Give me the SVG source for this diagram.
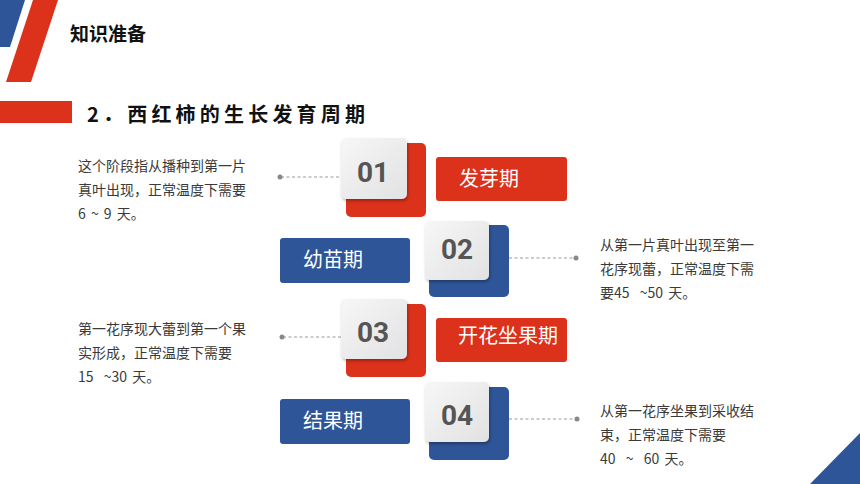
<svg xmlns="http://www.w3.org/2000/svg" width="860" height="484" viewBox="0 0 860 484">
<defs>
<linearGradient id="g" x1="0" y1="0" x2="1" y2="1">
<stop offset="0" stop-color="#f7f7f7"/>
<stop offset="1" stop-color="#e2e1e3"/>
</linearGradient>
<filter id="sh" x="-20%" y="-20%" width="150%" height="150%">
<feDropShadow dx="1" dy="2" stdDeviation="1.5" flood-color="#000" flood-opacity="0.3"/>
</filter>
</defs>
<style>
text{font-family:"Noto Sans CJK SC","Noto Sans",sans-serif;white-space:pre}
.red{fill:#dc311b}
.blue{fill:#2e5597}
.card{fill:url(#g);filter:url(#sh)}
.num{font-family:Roboto,"Noto Sans",sans-serif;font-weight:bold;font-size:28px;fill:#555;text-anchor:middle}
.lbl{font-size:20px;fill:#fff}
.desc{font-size:14px;fill:#3a3a3a;word-spacing:2px}
.dash{stroke:#999;stroke-width:1.2;stroke-dasharray:3 2.5;fill:none}
.dot{fill:#888}
</style>
<rect width="860" height="484" fill="#fff"/>
<!-- decorations -->
<polygon points="0,0 25,0 10,47 0,47" class="blue"/>
<polygon points="33,0 58,0 31,82 6,82" class="red"/>
<rect x="0" y="101" width="72" height="22" class="red"/>
<polygon points="810,484 860,433 860,484" class="blue"/>
<text x="70" y="41" font-size="19" font-weight="bold" fill="#111">知识准备</text>
<text x="87" y="122" font-size="20" font-weight="bold" fill="#111" letter-spacing="4.2">2．西红柿的生长发育周期</text>
<!-- connectors -->
<g id="connectors">
<line x1="281" y1="177" x2="341" y2="177" class="dash"/><circle cx="280" cy="177" r="2.5" class="dot"/>
<line x1="509" y1="258" x2="575" y2="258" class="dash"/><circle cx="576" cy="258" r="2.5" class="dot"/>
<line x1="283" y1="337" x2="341" y2="337" class="dash"/><circle cx="282" cy="337" r="2.5" class="dot"/>
<line x1="509" y1="419" x2="576" y2="419" class="dash"/><circle cx="577" cy="419" r="2.5" class="dot"/>
</g>
<!-- stage 1 -->
<g id="n01">
<rect x="346" y="143" width="80" height="74" rx="5" class="red"/>
<rect x="341" y="138" width="66" height="61" rx="5" class="card"/>
<text x="373" y="182" class="num">01</text>
</g>
<g id="l01">
<rect x="436" y="157" width="131" height="44" rx="3" class="red"/>
<text x="459" y="186" class="lbl">发芽期</text>
</g>
<g id="d01">
<text class="desc"><tspan x="78" y="171">这个阶段指从播种到第一片</tspan><tspan x="78" y="195">真叶出现，正常温度下需要</tspan><tspan x="78" y="219">6 ~ 9 天。</tspan></text>
</g>
<!-- stage 2 -->
<g id="n02">
<rect x="429" y="225" width="80" height="72" rx="5" class="blue"/>
<rect x="425" y="221" width="64" height="59" rx="5" class="card"/>
<text x="457" y="259" class="num">02</text>
</g>
<g id="l02">
<rect x="280" y="238" width="130" height="45" rx="3" class="blue"/>
<text x="303" y="267" class="lbl">幼苗期</text>
</g>
<g id="d02">
<text class="desc"><tspan x="600" y="250">从第一片真叶出现至第一</tspan><tspan x="600" y="274">花序现蕾，正常温度下需</tspan><tspan x="600" y="298">要45  ~50 天。</tspan></text>
</g>
<!-- stage 3 -->
<g id="n03">
<rect x="346" y="304" width="80" height="73" rx="5" class="red"/>
<rect x="341" y="299" width="66" height="60" rx="5" class="card"/>
<text x="373" y="342" class="num">03</text>
</g>
<g id="l03">
<rect x="436" y="318" width="131" height="44" rx="3" class="red"/>
<text x="458" y="343" class="lbl" font-size="17.5">开花坐果期</text>
</g>
<g id="d03">
<text class="desc"><tspan x="78" y="334">第一花序现大蕾到第一个果</tspan><tspan x="78" y="358">实形成，正常温度下需要</tspan><tspan x="78" y="382">15  ~30 天。</tspan></text>
</g>
<!-- stage 4 -->
<g id="n04">
<rect x="429" y="387" width="80" height="73" rx="5" class="blue"/>
<rect x="425" y="382" width="64" height="60" rx="5" class="card"/>
<text x="457" y="425" class="num">04</text>
</g>
<g id="l04">
<rect x="280" y="399" width="130" height="45" rx="3" class="blue"/>
<text x="303" y="428" class="lbl">结果期</text>
</g>
<g id="d04">
<text class="desc"><tspan x="600" y="416">从第一花序坐果到采收结</tspan><tspan x="600" y="440">束，正常温度下需要</tspan><tspan x="600" y="464">40  ~  60 天。</tspan></text>
</g>
</svg>
